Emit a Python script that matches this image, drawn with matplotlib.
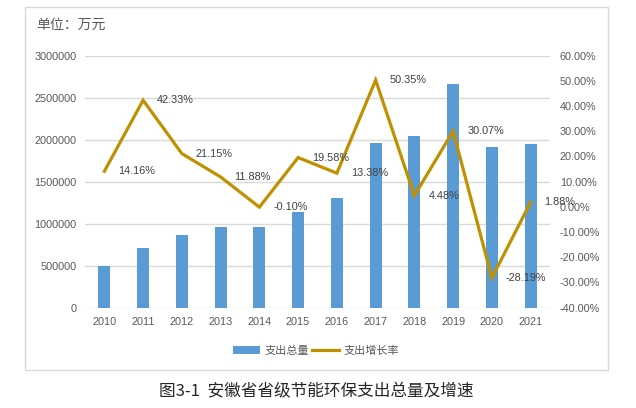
import matplotlib
matplotlib.use("Agg")
import matplotlib.pyplot as plt
from matplotlib.patches import Rectangle
from matplotlib.ticker import FuncFormatter, MultipleLocator

plt.rcParams['font.family'] = ['Liberation Sans', 'Noto Sans CJK SC', 'DejaVu Sans']

# data
years = ['2010', '2011', '2012', '2013', '2014', '2015',
         '2016', '2017', '2018', '2019', '2020', '2021']
spending = [496000, 710000, 861000, 960000, 959000, 1143000,
            1302000, 1957000, 2044000, 2660000, 1913000, 1949000]
growth = [14.16, 42.33, 21.15, 11.88, -0.10, 19.58,
          13.38, 50.35, 4.48, 30.07, -28.19, 1.88]
growth_labels = ['14.16%', '42.33%', '21.15%', '11.88%', '-0.10%', '19.58%',
                 '13.38%', '50.35%', '4.48%', '30.07%', '-28.19%', '1.88%']

bar_color = '#5B9BD5'
line_color = '#BF9000'
text_color = '#595959'
grid_color = '#D9D9D9'
cjk = ['Noto Sans CJK SC', 'DejaVu Sans']

fig = plt.figure(figsize=(6.36, 4.08), dpi=100)
ax = fig.add_axes([85 / 636, 1 - 307.7 / 408, 465 / 636, (307.7 - 55.7) / 408])
ax2 = ax.twinx()

x = list(range(len(years)))
bars = ax.bar(x, spending, width=0.31, color=bar_color, zorder=2, label='支出总量')
ax.set_xlim(-0.5, len(years) - 0.5)
ax.set_ylim(0, 3000000)
ax.yaxis.set_major_locator(MultipleLocator(500000))
ax.yaxis.set_major_formatter(FuncFormatter(lambda v, p: f'{v:.0f}'))
ax.set_xticks(x)
ax.set_xticklabels(years)
ax.grid(axis='y', color=grid_color, linewidth=1.0, zorder=0)
ax.set_axisbelow(True)

line, = ax2.plot(x, growth, color=line_color, linewidth=2.3, zorder=3,
                 label='支出增长率', solid_joinstyle='miter')
ax2.set_ylim(-40, 60)
ax2.yaxis.set_major_locator(MultipleLocator(10))
ax2.yaxis.set_major_formatter(FuncFormatter(lambda v, p: f'{v:.2f}%'))

for xi, g, lab in zip(x, growth, growth_labels):
    ax2.annotate(lab, (xi, g), xytext=(14, 0), textcoords='offset pixels',
                 ha='left', va='center', fontsize=7.8, color='#404040')

for a in (ax, ax2):
    for s in a.spines.values():
        s.set_visible(False)
    a.tick_params(length=0, labelsize=7.8, labelcolor=text_color)
ax.tick_params(axis='y', pad=6)
ax.tick_params(axis='x', pad=7)
ax2.tick_params(axis='y', pad=7)

# chart frame
fig.patches.append(Rectangle((25 / 636, 1 - 370 / 408), 583 / 636, 363 / 408,
                             transform=fig.transFigure, fill=False,
                             edgecolor=grid_color, linewidth=1.0))

fig.text(36 / 636, 1 - 25 / 408, '单位：万元', family=cjk, fontsize=10,
         color=text_color, ha='left', va='center')

leg = fig.legend(handles=[bars, line], loc='center', bbox_to_anchor=(316 / 636, 1 - 351 / 408),
                 ncol=2, frameon=False, prop={'family': cjk, 'size': 8},
                 handlelength=2.4, columnspacing=0.3, handletextpad=0.4)
for t in leg.get_texts():
    t.set_color(text_color)

fig.text(316 / 636, 1 - 391 / 408, '图3-1  安徽省省级节能环保支出总量及增速', family=cjk,
         fontsize=12, color='#262626', ha='center', va='center')

fig.savefig('out.png', dpi=100)
